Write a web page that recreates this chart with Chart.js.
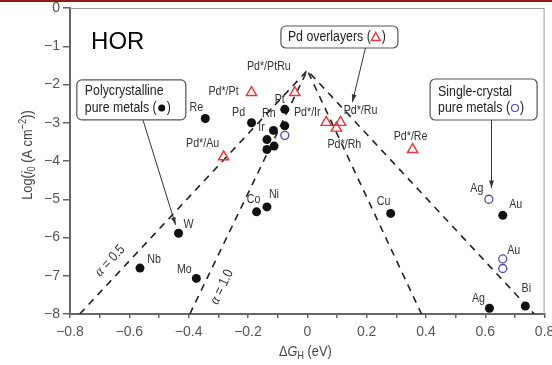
<!DOCTYPE html>
<html>
<head>
<meta charset="utf-8">
<script src="https://cdn.jsdelivr.net/npm/chart.js@4.4.1/dist/chart.umd.min.js"></script>
<style>
  html, body { margin: 0; padding: 0; background: #fff; }
  #wrap { width: 552px; height: 365px; }
</style>
</head>
<body>
<div id="wrap"><canvas id="c" width="552" height="365"></canvas></div>
<script>
// polycrystalline pure metals (filled dots)
const polyNames = ["Re", "Pd", "Pt", "Rh", "Ir", "", "", "", "Co", "Ni", "W", "Nb", "Mo", "Cu", "Au", "Ag", "Bi"];
const polyDG = [-0.344, -0.188, -0.076, -0.076, -0.114, -0.136, -0.112, -0.136, -0.171, -0.136, -0.434, -0.564, -0.374, 0.281, 0.659, 0.614, 0.735];
const polyLogI = [-2.89, -3.00, -2.65, -3.08, -3.20, -3.44, -3.61, -3.70, -5.33, -5.20, -5.89, -6.80, -7.07, -5.37, -5.42, -7.85, -7.79];

// single-crystal pure metals (open circles)
const singleNames = ["", "Ag", "Au", ""];
const singleDG = [-0.076, 0.612, 0.659, 0.659];
const singleLogI = [-3.33, -5.00, -6.56, -6.81];

// Pd overlayers (open triangles)
const pdNames = ["Pd*/Pt", "Pd*/PtRu", "Pd*/Au", "Pd*/Ir", "Pd*/Rh", "Pd*/Ru", "Pd*/Re"];
const pdDG = [-0.188, -0.042, -0.282, 0.064, 0.098, 0.112, 0.355];
const pdLogI = [-2.21, -2.21, -3.89, -2.99, -3.14, -2.99, -3.70];

// volcano lines
const alpha05DG = [-0.767, 0, 0.765];
const alpha05LogI = [-8, -1.63, -8];
const alpha10DG = [-0.396, 0, 0.385];
const alpha10LogI = [-8, -1.63, -8];

// label nudges in pixels (dx, dy)
const polyShift = [[-9,-11],[-13,-10],[-5,-10],[-16,-12],[-12,-3],[0,0],[0,0],[0,0],[-3,-12],[7,-12],[10,-9],[14,-9],[-12,-9],[-7,-12],[13,-11],[-11,-10],[1,-18]];
const singleShift = [[0,0],[-12,-11],[11,-8],[0,0]];
const pdShift = [[-28,-1],[-26,-26],[-21,-13],[-19,-10],[8,16],[20,-12],[-2,-13]];

const SANS = "'Liberation Sans', Arial, sans-serif";

const pts = (xs, ys) => xs.map((v, i) => ({ x: v, y: ys[i] }));

const series = [
  { names: polyNames, xs: polyDG, ys: polyLogI, shift: polyShift },
  { names: singleNames, xs: singleDG, ys: singleLogI, shift: singleShift },
  { names: pdNames, xs: pdDG, ys: pdLogI, shift: pdShift }
];

// draw a row of text pieces (own font / vertical offset), squeezed by sx
function runs(ctx, parts, x, y, align, sx) {
  sx = sx || 1;
  let w = 0;
  parts.forEach(p => { ctx.font = p.font; p.w = ctx.measureText(p.t).width * sx; w += p.w; });
  let cx = align === "center" ? x - w / 2 : x;
  ctx.textAlign = "left";
  parts.forEach(p => {
    ctx.save();
    ctx.font = p.font;
    ctx.fillStyle = p.color || "#333";
    ctx.translate(cx, y + (p.dy || 0));
    ctx.scale(sx, 1);
    ctx.fillText(p.t, 0, 0);
    ctx.restore();
    cx += p.w;
  });
  return cx;
}

function roundBox(ctx, x, y, w, h, r) {
  ctx.beginPath();
  ctx.moveTo(x + r, y);
  ctx.arcTo(x + w, y, x + w, y + h, r);
  ctx.arcTo(x + w, y + h, x, y + h, r);
  ctx.arcTo(x, y + h, x, y, r);
  ctx.arcTo(x, y, x + w, y, r);
  ctx.closePath();
  ctx.fillStyle = "#fff";
  ctx.fill();
  ctx.strokeStyle = "#555";
  ctx.lineWidth = 1.2;
  ctx.stroke();
}

function arrow(ctx, x1, y1, x2, y2) {
  ctx.strokeStyle = "#333";
  ctx.fillStyle = "#333";
  ctx.lineWidth = 1;
  ctx.beginPath(); ctx.moveTo(x1, y1); ctx.lineTo(x2, y2); ctx.stroke();
  const a = Math.atan2(y2 - y1, x2 - x1);
  ctx.beginPath();
  ctx.moveTo(x2, y2);
  ctx.lineTo(x2 - 8 * Math.cos(a - 0.3), y2 - 8 * Math.sin(a - 0.3));
  ctx.lineTo(x2 - 8 * Math.cos(a + 0.3), y2 - 8 * Math.sin(a + 0.3));
  ctx.closePath();
  ctx.fill();
}

const overlay = {
  id: "overlay",
  beforeDraw(chart) {
    const ctx = chart.ctx;
    ctx.save();
    ctx.fillStyle = "#fff";
    ctx.fillRect(0, 0, chart.width, chart.height);
    ctx.fillStyle = "#8e1b1b";
    ctx.fillRect(0, 0, chart.width, 2);
    ctx.restore();
  },
  afterDatasetsDraw(chart) {
    const { ctx, chartArea: a, scales: { x, y } } = chart;
    const X = v => x.getPixelForValue(v);
    const Y = v => y.getPixelForValue(v);
    ctx.save();

    // frame top / right
    ctx.strokeStyle = "#999";
    ctx.lineWidth = 1;
    ctx.beginPath();
    ctx.moveTo(a.left, a.top + 0.5);
    ctx.lineTo(a.right - 0.5, a.top + 0.5);
    ctx.lineTo(a.right - 0.5, a.bottom);
    ctx.stroke();

    // point labels
    ctx.textBaseline = "middle";
    const lf = "13px " + SANS;
    series.forEach(s => s.names.forEach((n, i) => {
      if (!n) return;
      runs(ctx, [{ t: n, font: lf, color: "#333" }],
        X(s.xs[i]) + s.shift[i][0], Y(s.ys[i]) + s.shift[i][1], "center", 0.82);
    }));

    // alpha labels along the lines
    const lab = (txt, lx, ly, p0, p1) => {
      const ang = Math.atan2(Y(p1[1]) - Y(p0[1]), X(p1[0]) - X(p0[0]));
      ctx.save();
      ctx.translate(X(lx), Y(ly));
      ctx.rotate(ang);
      ctx.textBaseline = "middle";
      runs(ctx, [
        { t: "\u03b1", font: "italic 15px 'Liberation Serif', serif" },
        { t: " = " + txt, font: "14px " + SANS }
      ], 0, 0, "center", 0.85);
      ctx.restore();
    };
    lab("0.5", -0.665, -6.61, [alpha05DG[0], alpha05LogI[0]], [alpha05DG[1], alpha05LogI[1]]);
    lab("1.0", -0.288, -7.29, [alpha10DG[0], alpha10LogI[0]], [alpha10DG[1], alpha10LogI[1]]);

    // HOR
    ctx.font = "24px " + SANS;
    ctx.fillStyle = "#000";
    ctx.textAlign = "left";
    ctx.fillText("HOR", X(-0.729), Y(-0.89));

    // callout boxes + arrows
    const bf = "14px " + SANS;
    const sq = 0.88;
    ctx.textBaseline = "middle";

    arrow(ctx, X(-0.554), Y(-2.93), X(-0.444), Y(-5.67));
    roundBox(ctx, X(-0.777), Y(-1.88), 109, 40, 5);
    runs(ctx, [{ t: "Polycrystalline", font: bf, color: "#222" }], X(-0.777) + 8, Y(-1.88) + 11, "left", sq);
    let ex = runs(ctx, [{ t: "pure metals (", font: bf, color: "#222" }], X(-0.777) + 8, Y(-1.88) + 28, "left", sq);
    ctx.fillStyle = "#111";
    ctx.beginPath(); ctx.arc(ex + 5, Y(-1.88) + 28, 3.5, 0, Math.PI * 2); ctx.fill();
    runs(ctx, [{ t: ")", font: bf, color: "#222" }], ex + 10, Y(-1.88) + 28, "left", sq);

    arrow(ctx, X(0.196), Y(-1.046), X(0.152), Y(-2.46));
    roundBox(ctx, X(-0.089), Y(-0.47), 117, 22, 5);
    ex = runs(ctx, [{ t: "Pd overlayers (", font: bf, color: "#222" }], X(-0.089) + 7, Y(-0.47) + 11, "left", sq);
    ctx.strokeStyle = "#e8383c"; ctx.lineWidth = 1.4;
    ctx.beginPath();
    ctx.moveTo(ex + 5, Y(-0.47) + 6.5); ctx.lineTo(ex + 9.5, Y(-0.47) + 14.5); ctx.lineTo(ex + 0.5, Y(-0.47) + 14.5);
    ctx.closePath(); ctx.stroke();
    runs(ctx, [{ t: ")", font: bf, color: "#222" }], ex + 11, Y(-0.47) + 11, "left", sq);

    arrow(ctx, X(0.621), Y(-2.93), X(0.621), Y(-4.71));
    roundBox(ctx, X(0.414), Y(-1.856), 107, 41, 5);
    runs(ctx, [{ t: "Single-crystal", font: bf, color: "#222" }], X(0.414) + 8, Y(-1.856) + 13, "left", sq);
    ex = runs(ctx, [{ t: "pure metals (", font: bf, color: "#222" }], X(0.414) + 8, Y(-1.856) + 29, "left", sq);
    ctx.strokeStyle = "#4a4aa8"; ctx.lineWidth = 1.2;
    ctx.beginPath(); ctx.arc(ex + 5, Y(-1.856) + 29, 3.5, 0, Math.PI * 2); ctx.stroke();
    runs(ctx, [{ t: ")", font: bf, color: "#222" }], ex + 10, Y(-1.856) + 29, "left", sq);

    // axis titles
    const tf = "15px " + SANS;
    const sf = "11px " + SANS;
    ctx.textBaseline = "middle";
    runs(ctx, [
      { t: "\u0394", font: tf, color: "#444" },
      { t: "G", font: "italic " + tf, color: "#444" },
      { t: "H", font: sf, dy: 4, color: "#444" },
      { t: " (eV)", font: tf, color: "#444" }
    ], (a.left + a.right) / 2 - 2, 352, "center", 0.85);

    ctx.save();
    ctx.translate(28, 155);
    ctx.rotate(-Math.PI / 2);
    runs(ctx, [
      { t: "Log(", font: tf, color: "#444" },
      { t: "i", font: "italic " + tf, color: "#444" },
      { t: "0", font: sf, dy: 4, color: "#444" },
      { t: " (A cm", font: tf, color: "#444" },
      { t: "\u22122", font: sf, dy: -5, color: "#444" },
      { t: "))", font: tf, color: "#444" }
    ], 0, 0, "center", 0.85);
    ctx.restore();

    ctx.restore();
  }
};

const minus = s => String(s).replace("-", "\u2212");

new Chart(document.getElementById("c"), {
  type: "scatter",
  data: {
    datasets: [
      {
        type: "line", data: pts(alpha05DG, alpha05LogI), order: 9,
        borderColor: "#222", borderWidth: 1.6, borderDash: [7, 6], pointRadius: 0, fill: false
      },
      {
        type: "line", data: pts(alpha10DG, alpha10LogI), order: 9,
        borderColor: "#222", borderWidth: 1.6, borderDash: [7, 6], pointRadius: 0, fill: false
      },
      {
        data: pts(polyDG, polyLogI), order: 1,
        pointStyle: "circle", pointRadius: 4.5, backgroundColor: "#111", borderColor: "#111", borderWidth: 0
      },
      {
        data: pts(singleDG, singleLogI), order: 2,
        pointStyle: "circle", pointRadius: 4, backgroundColor: "#fff", borderColor: "#4a4aa8", borderWidth: 1.3
      },
      {
        data: pts(pdDG, pdLogI), order: 3,
        pointStyle: "triangle", pointRadius: 6, backgroundColor: "rgba(0,0,0,0)", borderColor: "#e8383c", borderWidth: 1.4
      }
    ]
  },
  options: {
    responsive: false,
    animation: false,
    devicePixelRatio: 1,
    layout: { padding: { top: 8, right: 4, left: 0, bottom: 0 } },
    plugins: { legend: { display: false }, tooltip: { enabled: false } },
    scales: {
      x: {
        type: "linear", min: -0.8, max: 0.8,
        afterFit: s => { s.height = 51; s.paddingLeft = 0; s.paddingRight = 0; },
        border: { color: "#666", width: 2 },
        grid: { drawOnChartArea: false, tickLength: 4, color: "#666", lineWidth: 1.5 },
        ticks: {
          stepSize: 0.1, autoSkip: false, maxRotation: 0, padding: 6, color: "#555",
          font: { family: SANS, size: 14 },
          callback: v => {
            const k = Math.round(v * 10);
            if (k % 2 !== 0) return "";
            return k === 0 ? "0" : minus((k / 10).toFixed(1));
          }
        }
      },
      y: {
        min: -8, max: 0,
        afterFit: s => { s.width = 70; s.paddingTop = 0; s.paddingBottom = 0; },
        border: { color: "#666", width: 2 },
        grid: { drawOnChartArea: false, tickLength: 7, color: "#666", lineWidth: 1.5 },
        ticks: {
          stepSize: 1, padding: 3, color: "#555",
          font: { family: SANS, size: 14 },
          callback: v => minus(v)
        }
      }
    }
  },
  plugins: [overlay]
});
</script>
</body>
</html>
